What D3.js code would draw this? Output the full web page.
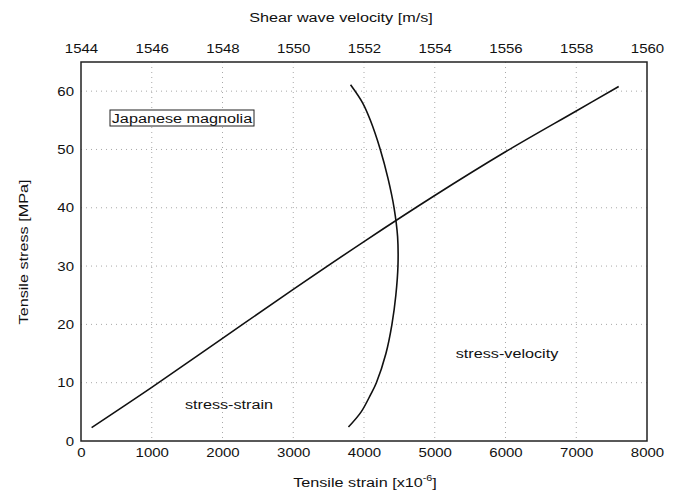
<!DOCTYPE html>
<html>
<head>
<meta charset="utf-8">
<script src="https://cdn.jsdelivr.net/npm/d3@7"></script>
<style>
  html, body { margin: 0; padding: 0; background: #fff; }
  svg { display: block; }
  text { font-family: "Liberation Sans", Arial, sans-serif; fill: #111; }
</style>
</head>
<body>
<svg id="chart" width="676" height="495"></svg>
<script>
// ---- data ----
const strainTicks = [0, 1000, 2000, 3000, 4000, 5000, 6000, 7000, 8000];
const velocityTicks = [1544, 1546, 1548, 1550, 1552, 1554, 1556, 1558, 1560];
const stressTicks = [0, 10, 20, 30, 40, 50, 60];

// stress-strain curve
const ssStrain = [150, 1000, 2000, 3000, 4000, 5000, 6000, 7000, 7600];
const ssStress = [2.3, 9.2, 17.6, 26.0, 34.2, 42.1, 49.6, 56.6, 60.8];

// stress-velocity curve
const svStress   = [2.4, 5, 8, 10, 15, 20, 25, 30, 35, 40, 45, 50, 55, 58, 61.1];
const svVelocity = [1551.56, 1551.92, 1552.19, 1552.35, 1552.62, 1552.79, 1552.90, 1552.96, 1552.95, 1552.85, 1552.68, 1552.46, 1552.18, 1551.96, 1551.62];

// ---- layout ----
const L = 81, R = 647, T = 62, B = 441;
const SX = 1.2; // horizontal text stretch seen in the scan

const svg = d3.select("#chart");
const x = d3.scaleLinear().domain([0, 8000]).range([L, R]);
const xv = d3.scaleLinear().domain([1544, 1560]).range([L, R]);
const y = d3.scaleLinear().domain([0, 65]).range([B, T]);

// grid (dotted)
const grid = svg.append("g").attr("stroke", "#a8a8a8").attr("stroke-width", 1)
  .attr("stroke-dasharray", "1 4");
grid.selectAll("line.v").data(strainTicks.slice(1, -1)).join("line")
  .attr("x1", d => x(d)).attr("x2", d => x(d)).attr("y1", T).attr("y2", B);
grid.selectAll("line.h").data(stressTicks.slice(1)).join("line")
  .attr("x1", L).attr("x2", R).attr("y1", d => y(d)).attr("y2", d => y(d));

// axes
function styleAxis(g, anchorShift) {
  g.select(".domain").remove();
  g.selectAll(".tick line").remove();
  g.selectAll(".tick text")
    .attr("font-size", 12.5)
    .attr("fill", "#111")
    .attr("font-family", "Liberation Sans, Arial, sans-serif")
    .attr("transform", `scale(${SX},1)`);
  if (anchorShift) g.selectAll(".tick text").attr("x", anchorShift / SX);
}
svg.append("g").attr("transform", `translate(0,${B})`)
  .call(d3.axisBottom(x).tickValues(strainTicks).tickSize(0).tickPadding(7).tickFormat(d3.format("d")))
  .call(g => styleAxis(g));
svg.append("g").attr("transform", `translate(0,${T})`)
  .call(d3.axisTop(xv).tickValues(velocityTicks).tickSize(0).tickPadding(9).tickFormat(d3.format("d")))
  .call(g => styleAxis(g));
svg.append("g").attr("transform", `translate(${L},0)`)
  .call(d3.axisLeft(y).tickValues(stressTicks).tickSize(0).tickPadding(7).tickFormat(d3.format("d")))
  .call(g => styleAxis(g, -7));

// frame
svg.append("rect").attr("x", L).attr("y", T).attr("width", R - L).attr("height", B - T)
  .attr("fill", "none").attr("stroke", "#222").attr("stroke-width", 1.5);

// curves
const lineSS = d3.line().x(d => x(d[0])).y(d => y(d[1])).curve(d3.curveCatmullRom);
svg.append("path").datum(ssStrain.map((s, i) => [s, ssStress[i]]))
  .attr("d", lineSS).attr("fill", "none").attr("stroke", "#111").attr("stroke-width", 1.6);

const lineSV = d3.line().x(d => xv(d[1])).y(d => y(d[0])).curve(d3.curveCatmullRom);
svg.append("path").datum(svStress.map((s, i) => [s, svVelocity[i]]))
  .attr("d", lineSV).attr("fill", "none").attr("stroke", "#111").attr("stroke-width", 1.6);

// text helper
function label(px, py, str, size, anchor, rot) {
  return svg.append("text")
    .attr("transform", `translate(${px},${py})${rot ? ` rotate(${rot})` : ""} scale(${SX},1)`)
    .attr("text-anchor", anchor || "middle")
    .attr("font-size", size)
    .text(str);
}

// titles
label(341, 22, "Shear wave velocity [m/s]", 13.5, "middle");
label(28, 252, "Tensile stress [MPa]", 13.5, "middle", -90);
const xt = label(365, 487, "Tensile strain [x10", 13.5, "middle");
xt.append("tspan").attr("font-size", 9).attr("dy", -6).text("-6");
xt.append("tspan").attr("dy", 6).text("]");

// annotations
label(229, 409, "stress-strain", 13.5, "middle");
label(507, 358, "stress-velocity", 13.5, "middle");

svg.append("rect").attr("x", 110).attr("y", 110).attr("width", 144).attr("height", 16)
  .attr("fill", "#fff").attr("stroke", "#222").attr("stroke-width", 1);
label(182, 123, "Japanese magnolia", 13.5, "middle");
</script>
</body>
</html>
